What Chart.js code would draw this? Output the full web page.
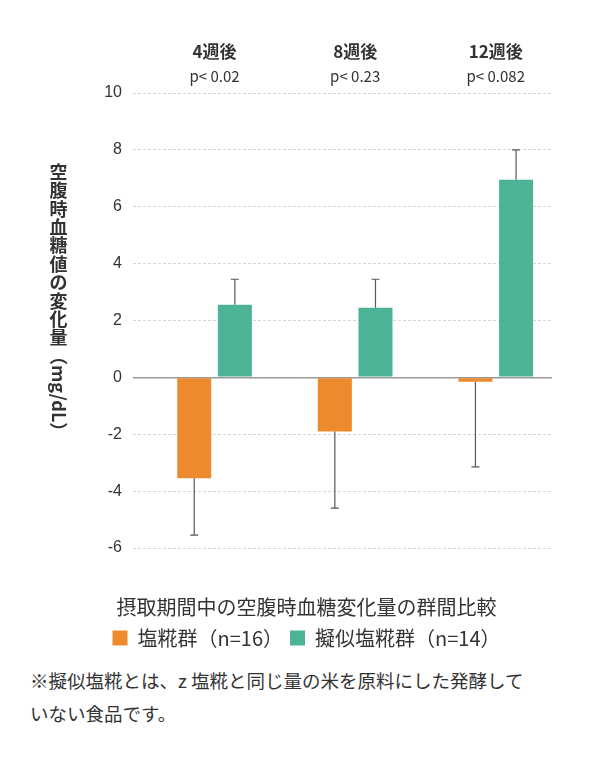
<!DOCTYPE html>
<html lang="ja">
<head>
<meta charset="utf-8">
<script src="https://cdn.jsdelivr.net/npm/chart.js@4.4.1/dist/chart.umd.min.js"></script>
<style>
  html, body { margin: 0; padding: 0; background: #fff; }
  #note { margin: 4px 0 0 30px; font: 18.5px/33px "Noto Sans CJK JP", sans-serif; color: #333; }
</style>
</head>
<body>
<canvas id="myChart" width="603" height="660"></canvas>
<div id="note">※擬似塩糀とは、z 塩糀と同じ量の米を原料にした発酵して<br>いない食品です。</div>
<script>
const categories = ["4週後", "8週後", "12週後"];
const pLabels = ["p< 0.02", "p< 0.23", "p< 0.082"];
const yTicks = [-6, -4, -2, 0, 2, 4, 6, 8, 10];
const seriesNames = ["塩糀群（n=16）", "擬似塩糀群（n=14）"];
const kojiValues = [-3.55, -1.9, -0.15];
const kojiErrors = [2.0, 2.7, 3.0];
const mockValues = [2.55, 2.45, 6.95];
const mockErrors = [0.9, 1.0, 1.05];

const CJK = '"Noto Sans CJK JP", sans-serif';
const textColor = '#333';

// error bars, one direction only (away from zero)
const errorBars = {
    id: 'errorBars',
    afterDatasetsDraw(chart) {
        const ctx = chart.ctx;
        const yScale = chart.scales.y;
        chart.data.datasets.forEach((ds, i) => {
            const meta = chart.getDatasetMeta(i);
            meta.data.forEach((bar, j) => {
                const v = ds.data[j].y;
                const end = yScale.getPixelForValue(v + ds.errDir * ds.errors[j]);
                ctx.save();
                ctx.strokeStyle = '#595757';
                ctx.lineWidth = 1.2;
                ctx.beginPath();
                ctx.moveTo(bar.x, bar.y);
                ctx.lineTo(bar.x, end);
                ctx.moveTo(bar.x - 4, end);
                ctx.lineTo(bar.x + 4, end);
                ctx.stroke();
                ctx.restore();
            });
        });
    }
};

// week labels + p values above the plot, and the vertical y title
const extraText = {
    id: 'extraText',
    afterDraw(chart) {
        const ctx = chart.ctx;
        const xScale = chart.scales.x;
        ctx.save();
        ctx.fillStyle = textColor;
        ctx.textAlign = 'center';
        ctx.textBaseline = 'middle';
        categories.forEach((c, i) => {
            const x = xScale.getPixelForValue(i + 1);
            ctx.font = 'bold 17px ' + CJK;
            ctx.fillText(c, x, 52);
            ctx.font = '15px ' + CJK;
            ctx.fillText(pLabels[i], x, 76);
        });

        // vertical title: upright kanji, then the unit turned sideways
        const title = "空腹時血糖値の変化量";
        ctx.font = 'bold 18px ' + CJK;
        for (let i = 0; i < title.length; i++) {
            ctx.fillText(title[i], 58.5, 172 + i * 18.4);
        }
        ctx.translate(58.5, 347);
        ctx.rotate(Math.PI / 2);
        ctx.textAlign = 'left';
        ctx.fillText("（mg/dL）", 0, 0);
        ctx.restore();
    }
};

const ctx = document.getElementById('myChart').getContext('2d');
new Chart(ctx, {
    type: 'bar',
    data: {
        datasets: [{
            label: seriesNames[0],
            data: kojiValues.map((v, i) => ({x: i + 1, y: v})),
            errors: kojiErrors,
            errDir: -1,
            backgroundColor: '#EC8A2D',
            categoryPercentage: 0.578,
            barPercentage: 0.837
        }, {
            label: seriesNames[1],
            data: mockValues.map((v, i) => ({x: i + 1, y: v})),
            errors: mockErrors,
            errDir: 1,
            backgroundColor: '#4CB396',
            categoryPercentage: 0.578,
            barPercentage: 0.837
        }]
    },
    options: {
        responsive: false,
        animation: false,
        layout: {padding: {top: 93, left: 10, right: 0, bottom: 2}},
        scales: {
            x: {
                type: 'linear',
                display: false,
                offset: false,
                grid: {offset: false},
                min: 0.42,
                max: 3.4,
                afterBuildTicks: s => { s.ticks = categories.map((c, i) => ({value: i + 1})); }
            },
            y: {
                min: yTicks[0],
                max: yTicks[yTicks.length - 1],
                afterBuildTicks: s => { s.ticks = yTicks.map(v => ({value: v})); },
                afterFit: s => { s.width = 123; },
                grid: {
                    drawTicks: false,
                    color: c => c.tick && c.tick.value === 0 ? '#9a9a9a' : '#d6d6d6',
                    lineWidth: c => c.tick && c.tick.value === 0 ? 1.6 : 1
                },
                border: {
                    display: false,
                    dash: c => c.tick && c.tick.value === 0 ? [] : [3, 2]
                },
                ticks: {
                    padding: 11,
                    color: textColor,
                    font: {family: '"Liberation Sans", Arial, sans-serif', size: 16}
                }
            },
            y2: {
                position: 'right',
                display: true,
                grid: {display: false},
                border: {display: false},
                ticks: {display: false},
                afterFit: s => { s.width = 51; }
            }
        },
        plugins: {
            tooltip: {enabled: false},
            legend: {
                position: 'bottom',
                title: {
                    display: true,
                    text: '摂取期間中の空腹時血糖変化量の群間比較',
                    color: textColor,
                    font: {family: CJK, size: 20},
                    padding: {top: 49, bottom: 0}
                },
                labels: {
                    boxWidth: 15,
                    boxHeight: 15,
                    padding: 7,
                    color: textColor,
                    font: {family: CJK, size: 20}
                }
            }
        }
    },
    plugins: [errorBars, extraText]
});
</script>
</body>
</html>
